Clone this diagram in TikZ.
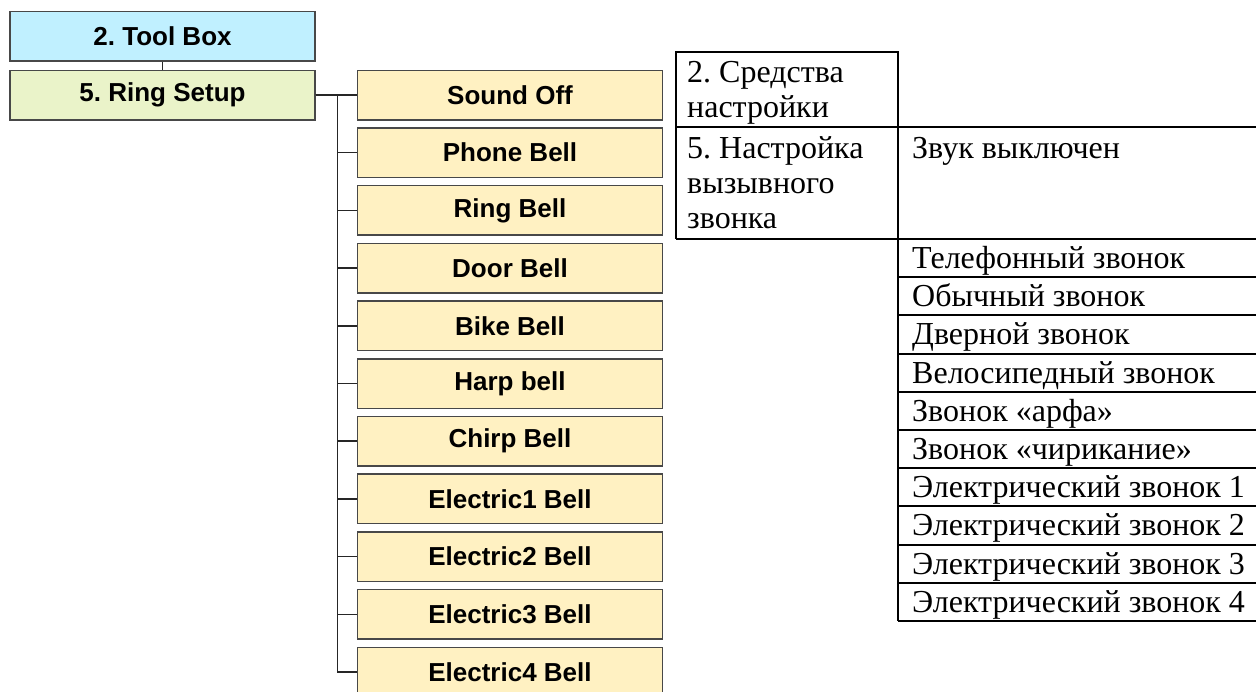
\documentclass[tikz,border=0pt]{standalone}
\usepackage{fontspec}
\setmainfont{Liberation Serif}
\newfontfamily\menufont{Liberation Sans}
\frenchspacing
\usetikzlibrary{positioning,calc}
\definecolor{toolfill}{RGB}{192,240,255}
\definecolor{ringfill}{RGB}{234,243,201}
\definecolor{bellfill}{RGB}{255,241,194}
\definecolor{boxline}{RGB}{72,72,72}
\tikzset{
  menubox/.style={draw=boxline, line width=1.5pt, minimum width=305pt, minimum height=49.5pt, inner sep=0pt, font=\menufont\bfseries\fontsize{26}{30}\selectfont},
  toolbox/.style={menubox, fill=toolfill},
  ringbox/.style={menubox, fill=ringfill},
  bellbox/.style={menubox, fill=bellfill},
  branch/.style={draw=black!85, line width=1.5pt},
  tabline/.style={draw=black, line width=2pt},
  celltext/.style={anchor=base west, inner sep=0pt, align=left, font=\fontsize{32}{35}\selectfont}
}

\begin{document}
\begin{tikzpicture}[x=1pt,y=-1pt]
  \useasboundingbox (0,0) rectangle (1256,691);
  \clip (0,0) rectangle (1256,691);
  % menu tree
  \node[toolbox] (tool) at (162.5,36) {2. Tool Box};
  \node[ringbox, below=8pt of tool] (ring) {5. Ring Setup};
  \draw[branch] (tool) -- (ring);
  \foreach \lab [count=\i] in {Sound Off,Phone Bell,Ring Bell,Door Bell,Bike Bell,Harp bell,Chirp Bell,Electric1 Bell,Electric2 Bell,Electric3 Bell,Electric4 Bell}{
    \node[bellbox] (bell\i) at (510,{95+57.7*(\i-1)}) {\lab};
    \draw[branch] (ring.east) -- ++(21.5,0) |- (bell\i.west);
  }
  % translation table (base of a multi-line cell is its last line)
  \draw[tabline] (898,127) |- (676,52) -- (676,239);
  \draw[tabline] (898,52) -- (898,621);
  \draw[tabline] (676,127) -- (1256,127);
  \draw[tabline] (676,239) -- (1256,239);
  \node[celltext] (tooltr) at (687,117) {2. Средства\\настройки};
  \node[celltext] (ringtr) at (687,228) {5. Настройка\\вызывного\\звонка};
  \node[celltext] (belltr1) at (912,158) {Звук выключен};
  \foreach \lab [count=\i] in {Телефонный звонок,Обычный звонок,Дверной звонок,Велосипедный звонок,Звонок «арфа»,Звонок «чирикание»,Электрический звонок 1,Электрический звонок 2,Электрический звонок 3,Электрический звонок 4}{
    \node[celltext] (rowtr\i) at (912,{239+38.2*(\i-1)+29.5}) {\lab};
    \draw[tabline] (898,{239+38.2*\i}) -- (1256,{239+38.2*\i});
  }
\end{tikzpicture}
\end{document}
